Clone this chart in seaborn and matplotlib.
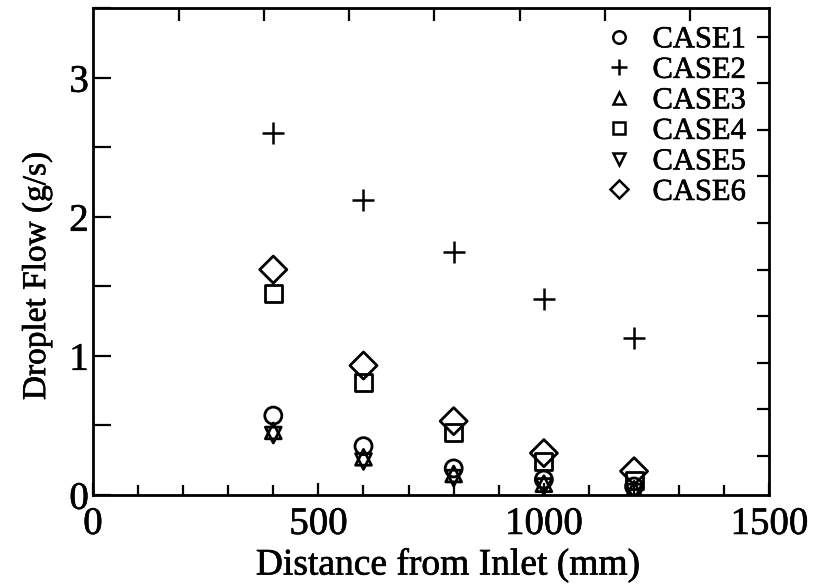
import numpy as np
import pandas as pd
import matplotlib
matplotlib.use("Agg")
import matplotlib.pyplot as plt
import matplotlib.patheffects as pe
from matplotlib.lines import Line2D
from matplotlib.ticker import FixedLocator, MultipleLocator
import seaborn as sns

# Measurement stations along the duct (mm)
distance = [400, 600, 800, 1000, 1200]

# Droplet flow rate (g/s) for each case
case1 = [0.57, 0.35, 0.19, 0.11, 0.06]
case2 = [2.60, 2.12, 1.75, 1.41, 1.13]
case3 = [0.46, 0.27, 0.15, 0.08, 0.04]
case4 = [1.45, 0.81, 0.45, 0.24, 0.10]
case5 = [0.43, 0.24, 0.12, 0.06, 0.02]
case6 = [1.62, 0.93, 0.53, 0.30, 0.17]

case_names = ["CASE1", "CASE2", "CASE3", "CASE4", "CASE5", "CASE6"]
case_values = [case1, case2, case3, case4, case5, case6]
case_markers = ["o", "+", "^", "s", "v", "D"]
case_sizes = [150, 260, 130, 150, 130, 190]

df = pd.concat(
    [pd.DataFrame({"distance": distance, "flow": vals, "case": name})
     for name, vals in zip(case_names, case_values)],
    ignore_index=True,
)

sns.set_style("ticks")
plt.rcParams["font.family"] = ["Liberation Serif", "DejaVu Serif"]
for key in ["text.color", "axes.labelcolor", "xtick.color", "ytick.color",
            "axes.edgecolor"]:
    plt.rcParams[key] = "black"

# slightly heavier ink for all text
ink = [pe.withStroke(linewidth=0.45, foreground="black")]

fig = plt.figure(figsize=(8.15, 5.87), dpi=100)
ax = fig.add_axes([0.114, 0.157, 0.830, 0.829])

for name, marker, size in zip(case_names, case_markers, case_sizes):
    sub = df[df["case"] == name]
    if marker == "+":
        sns.scatterplot(data=sub, x="distance", y="flow", marker=marker,
                        s=size, color="black", linewidth=1.8, ax=ax,
                        legend=False, zorder=3)
    else:
        sns.scatterplot(data=sub, x="distance", y="flow", marker=marker,
                        s=size, facecolors="none", edgecolor="black",
                        linewidth=2.0, ax=ax, legend=False, zorder=3)

ax.set_xlim(0, 1500)
ax.set_ylim(0, 3.5)

ax.xaxis.set_major_locator(FixedLocator([0, 500, 1000, 1500]))
ax.xaxis.set_minor_locator(MultipleLocator(100))
ax.yaxis.set_major_locator(FixedLocator([0, 1, 2, 3]))
ax.yaxis.set_minor_locator(MultipleLocator(0.5))

ax.tick_params(axis="both", which="both", direction="in", top=False,
               right=False, width=1.6, colors="black")
ax.tick_params(axis="x", which="major", length=9, labelsize=28, pad=8)
ax.tick_params(axis="x", which="minor", length=7)
ax.tick_params(axis="y", which="major", length=13, labelsize=28, pad=3)
ax.tick_params(axis="y", which="minor", length=13)

# Secondary scales on the top and right edges (ticks only)
top = ax.secondary_xaxis("top")
top.xaxis.set_major_locator(FixedLocator([190 + 189 * k for k in range(7)]))
top.tick_params(direction="in", length=9, width=1.6, labeltop=False)
right = ax.secondary_yaxis("right")
right.yaxis.set_major_locator(FixedLocator([0.28 + 0.335 * k for k in range(10)]))
right.tick_params(direction="in", length=9, width=1.6, labelright=False)
for sp in list(top.spines.values()) + list(right.spines.values()):
    sp.set_visible(False)

for sp in ax.spines.values():
    sp.set_linewidth(2.0)
    sp.set_color("black")

ax.set_xlabel("Distance from Inlet (mm)", fontsize=27, color="black")
ax.xaxis.set_label_coords(0.525, -0.108)
ax.set_ylabel("Droplet Flow (g/s)", fontsize=24, color="black")
ax.yaxis.set_label_coords(-0.06, 0.45)

handles = []
for name, marker in zip(case_names, case_markers):
    ms = {"o": 9, "+": 12, "^": 9, "s": 9, "v": 9, "D": 9}[marker]
    handles.append(Line2D([], [], linestyle="none", marker=marker,
                          markersize=ms, markerfacecolor="none",
                          markeredgecolor="black", markeredgewidth=1.8,
                          color="black"))
leg = ax.legend(handles, case_names, loc="upper right", frameon=False,
                fontsize=22, labelspacing=0.05, handlelength=1.0,
                handletextpad=0.6, bbox_to_anchor=(0.983, 0.99),
                borderaxespad=0.0, labelcolor="black")

texts = [ax.xaxis.label, ax.yaxis.label] + list(leg.get_texts())
texts += ax.get_xticklabels() + ax.get_yticklabels()
for t in texts:
    t.set_color("black")
    t.set_path_effects(ink)

fig.savefig("out.png", dpi=100)
